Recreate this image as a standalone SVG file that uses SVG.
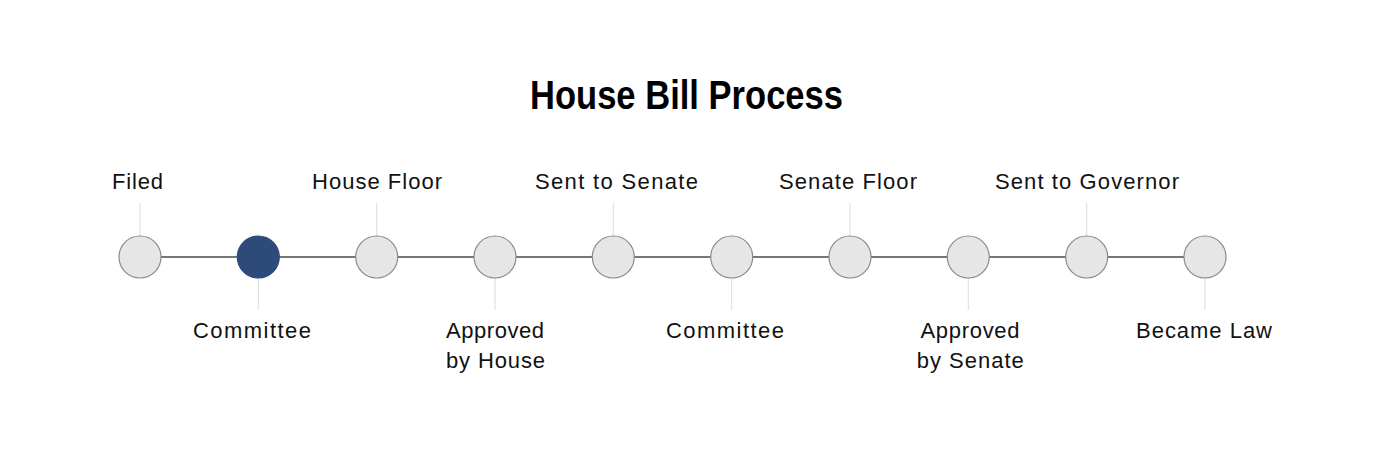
<svg xmlns="http://www.w3.org/2000/svg" width="1380" height="465" viewBox="0 0 1380 465">
<style>
.title{font-family:"Liberation Sans Narrow","Liberation Sans",Arial,sans-serif;font-weight:bold;font-size:40px;fill:#000;text-anchor:middle}
.lbl{font-family:"Liberation Sans",Arial,sans-serif;font-size:22px;fill:#111;text-anchor:middle}
.tick{stroke:#dcdcdc;stroke-width:1}
.track{stroke:#777;stroke-width:2}
.node{fill:#e6e6e6;stroke:#8a8a8a;stroke-width:1.2}
.node.active{fill:#2e4a7b;stroke:#2e4a7b}
</style>
<rect width="1380" height="465" fill="#fff"/>
<text class="title" x="686.5" y="109" textLength="313" lengthAdjust="spacingAndGlyphs">House Bill Process</text>
<g id="connectors">
<line class="track" x1="140" y1="257" x2="1205" y2="257"/>
<line class="tick" x1="140" y1="203" x2="140" y2="236"/>
<line class="tick" x1="258.3" y1="278" x2="258.3" y2="310"/>
<line class="tick" x1="376.7" y1="203" x2="376.7" y2="236"/>
<line class="tick" x1="495" y1="278" x2="495" y2="310"/>
<line class="tick" x1="613.3" y1="203" x2="613.3" y2="236"/>
<line class="tick" x1="731.7" y1="278" x2="731.7" y2="310"/>
<line class="tick" x1="850" y1="203" x2="850" y2="236"/>
<line class="tick" x1="968.3" y1="278" x2="968.3" y2="310"/>
<line class="tick" x1="1086.7" y1="203" x2="1086.7" y2="236"/>
<line class="tick" x1="1205" y1="278" x2="1205" y2="310"/>
</g>
<g id="n1"><circle class="node" cx="140" cy="257" r="21"/><text class="lbl" x="137.5" y="189" textLength="51" lengthAdjust="spacing">Filed</text></g>
<g id="n2"><circle class="node active" cx="258.3" cy="257" r="21"/><text class="lbl" x="252" y="338" textLength="118" lengthAdjust="spacing">Committee</text></g>
<g id="n3"><circle class="node" cx="376.7" cy="257" r="21"/><text class="lbl" x="377" y="189" textLength="130" lengthAdjust="spacing">House Floor</text></g>
<g id="n4"><circle class="node" cx="495" cy="257" r="21"/><text class="lbl" x="495" y="338" textLength="98" lengthAdjust="spacing">Approved</text><text class="lbl" x="495.5" y="368" textLength="99" lengthAdjust="spacing">by House</text></g>
<g id="n5"><circle class="node" cx="613.3" cy="257" r="21"/><text class="lbl" x="616.5" y="189" textLength="163" lengthAdjust="spacing">Sent to Senate</text></g>
<g id="n6"><circle class="node" cx="731.7" cy="257" r="21"/><text class="lbl" x="725" y="338" textLength="118" lengthAdjust="spacing">Committee</text></g>
<g id="n7"><circle class="node" cx="850" cy="257" r="21"/><text class="lbl" x="848" y="189" textLength="138" lengthAdjust="spacing">Senate Floor</text></g>
<g id="n8"><circle class="node" cx="968.3" cy="257" r="21"/><text class="lbl" x="970" y="338" textLength="99" lengthAdjust="spacing">Approved</text><text class="lbl" x="970.3" y="368" textLength="107" lengthAdjust="spacing">by Senate</text></g>
<g id="n9"><circle class="node" cx="1086.7" cy="257" r="21"/><text class="lbl" x="1087" y="189" textLength="184" lengthAdjust="spacing">Sent to Governor</text></g>
<g id="n10"><circle class="node" cx="1205" cy="257" r="21"/><text class="lbl" x="1204" y="338" textLength="136" lengthAdjust="spacing">Became Law</text></g>
</svg>
